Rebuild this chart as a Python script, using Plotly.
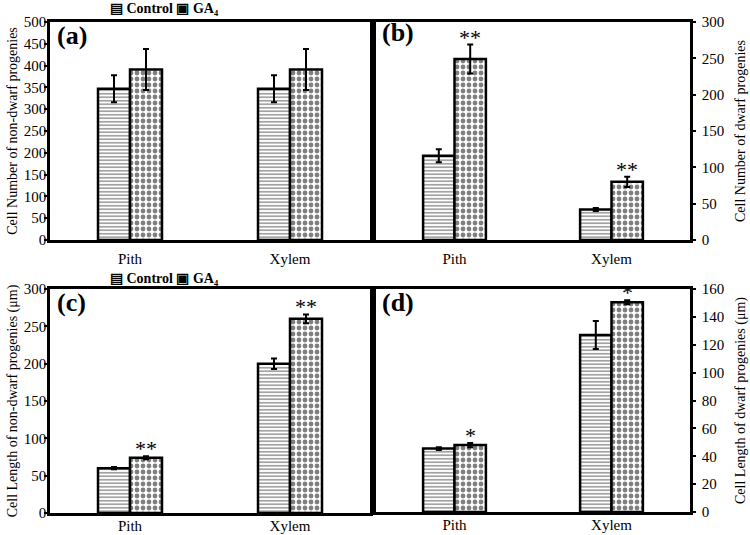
import plotly.graph_objects as go

categories = ["Pith", "Xylem"]
# (a) cell number of non-dwarf progenies
a_control = [347, 347]
a_control_err = [31, 31]
a_ga = [391, 391]
a_ga_err = [47, 47]
# (b) cell number of dwarf progenies
b_control = [116, 42]
b_control_err = [9, 2]
b_ga = [249, 80]
b_ga_err = [20, 7]
# (c) cell length of non-dwarf progenies
c_control = [60, 200]
c_control_err = [1.5, 7]
c_ga = [74, 260]
c_ga_err = [2, 6]
# (d) cell length of dwarf progenies
d_control = [45.5, 127]
d_control_err = [1, 10]
d_ga = [48, 150.5]
d_ga_err = [1.5, 1.5]

b_sig = ["**", "**"]
c_sig = ["**", "**"]
d_sig = ["*", "*"]

y_titles = [
    "Cell Number of non-dwarf progenies",
    "Cell Number of dwarf progenies",
    "Cell Length of non-dwarf progenies (μm)",
    "Cell Length of dwarf progenies (μm)",
]

FONT = "Liberation Serif"
xpos = [0, 1]

ctrl_pattern = dict(shape="-", fgcolor="#333333", bgcolor="white", size=3.5, solidity=0.45, fillmode="overlay")
ga_pattern = dict(shape=".", fgcolor="black", bgcolor="white", size=6, solidity=0.5, fillmode="overlay")

fig = go.Figure()

panels = [
    ("x", "y", a_control, a_control_err, a_ga, a_ga_err, None),
    ("x2", "y2", b_control, b_control_err, b_ga, b_ga_err, b_sig),
    ("x3", "y3", c_control, c_control_err, c_ga, c_ga_err, c_sig),
    ("x4", "y4", d_control, d_control_err, d_ga, d_ga_err, d_sig),
]

annotations = []
for xa, ya, ctrl, ctrl_e, ga, ga_e, sig in panels:
    fig.add_trace(go.Bar(
        x=xpos, y=ctrl, name="Control", xaxis=xa, yaxis=ya,
        marker=dict(color="white", pattern=ctrl_pattern, line=dict(color="black", width=2.5)),
        error_y=dict(type="data", array=ctrl_e, color="black", thickness=2, width=3),
        showlegend=False, offsetgroup="c",
    ))
    fig.add_trace(go.Bar(
        x=xpos, y=ga, name="GA₄", xaxis=xa, yaxis=ya,
        marker=dict(color="white", pattern=ga_pattern, line=dict(color="black", width=2.5)),
        error_y=dict(type="data", array=ga_e, color="black", thickness=2, width=3),
        showlegend=False, offsetgroup="g",
    ))
    if sig:
        for i in range(2):
            annotations.append(dict(
                x=xpos[i] + 0.1, y=ga[i] + ga_e[i], xref=xa, yref=ya,
                text=sig[i], showarrow=False, yanchor="bottom",
                font=dict(family=FONT, size=22, color="black"), yshift=-7,
            ))

W, H = 750, 535
def dx(a, b):
    return [a / W, b / W]
def dy(top, bottom):
    return [1 - bottom / H, 1 - top / H]

axis_common = dict(showline=True, linecolor="black", linewidth=2.5, mirror=True,
                   showgrid=False, zeroline=False, automargin=False,
                   tickfont=dict(family=FONT, size=15, color="black"))
xcommon = dict(axis_common, range=[-0.5, 1.5], tickvals=xpos, ticktext=categories, ticks="")
xtop = dict(xcommon, ticklabelstandoff=3)
xbot = dict(xcommon, ticklabelstandoff=-3)
ycommon = dict(axis_common, ticks="outside", ticklen=3, tickwidth=1.5, tickcolor="black")
yleft = dict(ycommon, ticklabelstandoff=-5)
yright = dict(ycommon, ticklabelstandoff=3, side="right")
def ytitle(t, standoff):
    return dict(text=t, font=dict(family=FONT, size=14, color="black"), standoff=standoff)

fig.update_layout(
    width=W, height=H,
    margin=dict(l=0, r=0, t=0, b=0, autoexpand=False),
    paper_bgcolor="white", plot_bgcolor="white",
    barmode="group", bargap=0.6, bargroupgap=0,
    font=dict(family=FONT, color="black"),
    showlegend=False,
    xaxis=dict(xtop, domain=dx(50, 370), anchor="y"),
    yaxis=dict(yleft, domain=dy(22, 240), range=[0, 500], dtick=50, anchor="x",
               title=ytitle(y_titles[0], 3)),
    xaxis2=dict(xtop, domain=dx(376, 690), anchor="y2"),
    yaxis2=dict(yright, domain=dy(22, 240), range=[0, 300], dtick=50, anchor="x2",
                title=ytitle(y_titles[1], 12)),
    xaxis3=dict(xbot, domain=dx(50, 370), anchor="y3"),
    yaxis3=dict(yleft, domain=dy(289, 513), range=[0, 300], dtick=50, anchor="x3",
                title=ytitle(y_titles[2], 3)),
    xaxis4=dict(xbot, domain=dx(376, 690), anchor="y4"),
    yaxis4=dict(yright, domain=dy(289, 512), range=[0, 160], dtick=20, anchor="x4",
                title=ytitle(y_titles[3], 12)),
)

# legends (as text with pattern glyphs)
for yp in [9, 278]:
    annotations.append(dict(x=108 / W, y=1 - yp / H, xref="paper", yref="paper",
                            text="<b>▤ Control ▣ GA₄</b>", showarrow=False,
                            xanchor="left", yanchor="middle",
                            font=dict(family=FONT, size=14, color="black")))

# panel labels
for lab, xp, yp in [("(a)", 55, 35), ("(b)", 380, 33), ("(c)", 55, 302), ("(d)", 380, 302)]:
    annotations.append(dict(x=xp / W, y=1 - yp / H, xref="paper", yref="paper", text=f"<b>{lab}</b>",
                            showarrow=False, xanchor="left", yanchor="middle",
                            font=dict(family=FONT, size=26, color="black")))

fig.update_layout(annotations=annotations)
fig.write_html("out.html", config={"displayModeBar": False},
               post_script="document.body.style.margin='0px';")
